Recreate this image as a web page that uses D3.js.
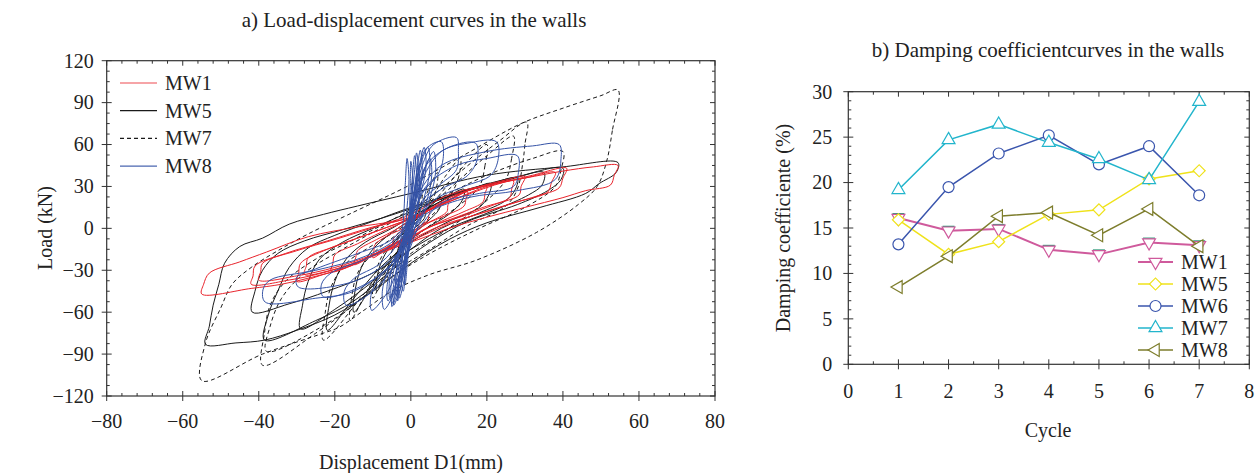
<!DOCTYPE html>
<html><head><meta charset="utf-8">
<script src="https://cdn.jsdelivr.net/npm/d3@7"></script>
<style>
body{margin:0;background:#fff}
text{font-family:"Liberation Serif","Times New Roman",serif;fill:#222}
</style>
</head><body>
<svg id="c" width="1257" height="473"></svg>
<script>
// ---------- Chart a) data : hysteresis loops [displacement mm, load kN] ----------
const loadSeries = ["MW1","MW5","MW7","MW8"];
const xTicksA = [-80,-60,-40,-20,0,20,40,60,80];
const yTicksA = [-120,-90,-60,-30,0,30,60,90,120];

const mw1Loops = [
 [[54.5,45],[53.5,38],[52.5,31],[46,27],[40,22],[30,15],[20,8],[10,0],[0,-10],[-9,-18],[-17,-28],[-26,-35],[-34,-40],[-42,-43],[-55,-47],[-54.5,-40],[-53,-32],[-45,-24],[-38,-17],[-27,-6],[-14,1],[-5,5],[0,10],[10,24],[20,31],[30,36],[40,41],[48,44]],
 [[41,43],[40,36],[39,29],[33,23],[22,14],[10,3],[0,-9],[-10,-20],[-22,-31],[-32,-37],[-42,-40],[-41.5,-34],[-41,-27],[-33,-18],[-22,-9],[-10,1],[0,8],[10,19],[22,31],[32,38]],
 [[38,40],[37,33],[36,26],[28,19],[20,12],[8,2],[0,-8],[-10,-19],[-20,-28],[-30,-34],[-40,-37],[-39.5,-31],[-39,-25],[-30,-16],[-20,-8],[-8,2],[0,8],[10,19],[20,30],[30,36]],
 [[30,37],[29,30],[28.5,24],[22,17],[14,9],[5,1],[0,-7],[-8,-17],[-16,-27],[-23,-33],[-30,-38],[-29.5,-32],[-29,-25],[-22,-15],[-14,-7],[-5,2],[0,7],[8,17],[16,28],[24,34]],
 [[27,34],[26.5,28],[26,22],[19,15],[12,8],[4,0],[0,-6],[-7,-15],[-14,-24],[-21,-30],[-28,-33],[-27.5,-27],[-27,-21],[-20,-13],[-12,-5],[-4,3],[0,7],[7,16],[14,26],[21,31]],
 [[20,30],[19.5,25],[19,19],[14,12],[8,5],[0,-6],[-5,-12],[-10,-19],[-15,-26],[-21,-31],[-20.5,-25],[-20,-19],[-14,-11],[-8,-3],[0,7],[5,14],[10,22],[15,27]],
 [[15,26],[14.5,21],[14,16],[9,9],[4,3],[0,-5],[-4,-10],[-8,-16],[-15,-26],[-14.5,-21],[-14,-16],[-9,-8],[-4,-1],[0,6],[4,12],[8,18],[12,23]],
 [[10,20],[9.7,16],[9.5,12],[6,6],[2,1],[0,-5],[-3,-9],[-6,-14],[-10,-21],[-9.7,-16],[-9.5,-12],[-6,-5],[-2,0],[0,5],[3,10],[6,15]],
 [[5,13],[4.7,9],[4.5,6],[2,1],[0,-4],[-2,-8],[-5,-14],[-4.7,-10],[-4.5,-7],[-2,-1],[0,4],[2,8]]
];

const mw5Loops = [
 [[54.5,47],[54,40],[49.5,32],[46,25],[34,15],[20,4],[10,-8],[0,-25],[-10,-45],[-20,-62],[-30,-73],[-38.5,-80],[-46,-82],[-54,-83],[-53,-70],[-52,-55],[-50.5,-40],[-49,-25],[-45,-13],[-39,-7],[-32,3],[-23,10],[-14,16],[0,25],[20,38],[40,44]],
 [[40,43],[39.5,35],[36,27],[28,17],[15,5],[5,-10],[-5,-30],[-15,-52],[-25,-66],[-38.5,-80],[-37.5,-62],[-35,-45],[-32,-28],[-27,-14],[-20,-5],[-10,5],[0,15],[15,28],[28,37]],
 [[35,40],[34.5,31],[31,24],[22,13],[10,0],[0,-15],[-10,-32],[-22,-45],[-32,-54],[-41.7,-60],[-41,-45],[-39,-30],[-35,-18],[-28,-9],[-18,-1],[-8,7],[0,14],[15,27],[26,35]],
 [[28,36],[27.5,28],[25,20],[18,11],[8,0],[0,-15],[-10,-38],[-20,-58],[-29,-72],[-28.5,-55],[-27,-38],[-24,-22],[-18,-10],[-10,0],[0,12],[12,25],[21,32]],
 [[21,32],[20.5,24],[18,15],[10,5],[0,-10],[-8,-28],[-15,-50],[-22,-73],[-21.5,-55],[-20,-38],[-17,-22],[-12,-10],[-5,0],[0,8],[10,22],[16,28]],
 [[14,28],[13.5,20],[10,10],[4,0],[0,-8],[-6,-25],[-10,-40],[-15,-60],[-14.5,-42],[-13,-28],[-10,-15],[-5,-3],[0,6],[7,18]],
 [[8,22],[7.5,14],[4,4],[0,-6],[-4,-20],[-9,-45],[-8.5,-30],[-6,-15],[-2,-3],[0,3],[4,13]],
 [[4,14],[3.5,7],[1,0],[0,-4],[-2,-14],[-4,-28],[-3.5,-16],[-2,-6],[0,2],[2,8]]
];

const mw7Loops = [
 [[54.5,99],[53,70],[51.5,48],[49,30],[44,17],[33,-3],[17,-23],[5,-33],[-5,-45],[-12,-58],[-19,-71],[-23,-75],[-39,-90],[-55,-109],[-54,-82],[-50,-57],[-47,-40],[-42,-28],[-35,-16],[-27,-4],[-14,13],[-1,30],[15,54],[29,75],[40,86],[50,95]],
 [[30.5,76],[30,60],[29.5,48],[28,28],[25,16],[15,2],[5,-15],[-5,-32],[-15,-55],[-25,-75],[-39,-98],[-38.5,-75],[-37,-55],[-33,-38],[-25,-22],[-15,-8],[-5,6],[5,22],[15,45],[23,62]],
 [[40,55],[39.5,42],[38,30],[30,15],[18,0],[5,-18],[-8,-40],[-22,-68],[-38,-88],[-37,-70],[-34,-50],[-28,-32],[-18,-15],[-8,0],[5,18],[20,38],[32,50]],
 [[27,66],[26.5,50],[25,35],[20,20],[10,0],[0,-18],[-10,-40],[-23,-80],[-22.5,-60],[-21,-42],[-17,-25],[-10,-12],[0,5],[10,28],[20,52]],
 [[20,60],[19.5,45],[18,30],[12,15],[4,0],[-4,-18],[-10,-38],[-16,-66],[-15.5,-48],[-14,-32],[-10,-18],[-4,-5],[3,10],[10,32],[15,48]],
 [[13,50],[12.5,36],[10,22],[5,8],[0,-5],[-5,-22],[-10,-50],[-9.5,-35],[-8,-22],[-5,-10],[0,3],[5,20],[9,37]],
 [[7,40],[6.5,26],[4,12],[0,0],[-3,-14],[-6,-36],[-5.5,-22],[-4,-10],[0,2],[3,18]],
 [[3,25],[2.5,14],[1,4],[0,-3],[-1.5,-10],[-3,-22],[-2.5,-12],[-1,-3],[0,4],[1.5,13]]
];

const mw8Loops = [
 [[39,60],[39.5,50],[38,35],[28,27],[15,22],[5,12],[0,0],[-5,-25],[-15,-45],[-25,-50],[-38.3,-52.8],[-38.9,-44],[-37,-37],[-25,-30],[-12,-20],[-3,-5],[2,25],[8,45],[20,55],[32,59]],
 [[28,52],[28.3,40],[27,30],[18,25],[8,18],[2,0],[-5,-22],[-15,-38],[-29.6,-42],[-30,-35],[-25,-29],[-14,-18],[-5,-8],[0,8],[4,30],[12,45],[20,50]],
 [[22.5,62],[23,50],[21,38],[14,30],[6,20],[1,0],[-5,-25],[-12,-40],[-23,-49],[-23.5,-40],[-21,-32],[-12,-22],[-4,-10],[0,10],[3,35],[8,55],[15,61]],
 [[17,61],[17.5,50],[15,38],[8,28],[2,15],[0,0],[-4,-25],[-10,-45],[-17,-55],[-17.5,-45],[-15,-36],[-8,-25],[-2,-5],[1,20],[4,45],[10,58]],
 [[12,65],[12.5,55],[12,42],[8,32],[3,20],[0,0],[-3,-25],[-6,-45],[-10.3,-58.7],[-10.5,-48],[-9,-38],[-5,-25],[-1,-5],[1,20],[3,45],[6,60]],
 [[8,62],[8.5,50],[7,38],[3,25],[0.5,0],[-2,-30],[-7,-58],[-7.5,-45],[-6,-30],[-2,-10],[0,15],[2,40],[4,57]],
 [[4.5,58],[5,42],[3.5,22],[1,0],[-1.5,-25],[-4,-50],[-5,-56],[-4.5,-40],[-3,-20],[-1,0],[1,25],[2.5,45]],
 [[2.5,56],[3,40],[2,20],[0.5,0],[-1,-20],[-3,-45],[-4.5,-55],[-4,-40],[-2.5,-20],[-1,0],[0.5,20],[1.5,40]],
 [[1,52],[1.5,38],[1,18],[0,0],[-1,-22],[-2,-40],[-3,-50],[-3.2,-38],[-2,-18],[-0.5,0],[0,22],[0.5,40]],
 [[3.5,58],[4,44],[2.5,24],[0.5,2],[-1.5,-22],[-3.5,-42],[-5,-54],[-5.2,-40],[-3.5,-20],[-1.2,0],[0.8,22],[2,42]],
 [[0,48],[0.5,35],[0,15],[-0.5,-5],[-1.2,-25],[-2,-45],[-2.5,-38],[-1.5,-18],[-0.5,5],[-0.2,28]],
 [[5,50],[5.5,38],[4,18],[1,0],[-2,-25],[-4.5,-45],[-5.5,-50],[-5.5,-35],[-3,-15],[-0.5,5],[2,28],[3.5,42]],
 [[2,45],[2.3,30],[1.5,12],[0,-5],[-0.8,-22],[-1.5,-40],[-1.8,-28],[-1,-10],[0,8],[1,28]],
 [[-1,50],[-0.5,35],[-1,15],[-1.5,-5],[-2.5,-28],[-3.8,-48],[-4,-36],[-3,-15],[-2,5],[-1.5,30]],
 [[6,55],[6.5,40],[5,22],[2,2],[-1,-20],[-4,-40],[-6,-52],[-6.2,-40],[-4,-22],[-1,-2],[2,25],[4,45]],
 [[1.5,54],[2,40],[1.2,20],[0,0],[-1.5,-25],[-2.8,-44],[-3.5,-52],[-3.4,-40],[-2.2,-20],[-0.8,2],[0.4,25],[1,42]]
];

// ---------- Chart b) data ----------
const cycles = [1,2,3,4,5,6,7];
const xTicksB = [0,1,2,3,4,5,6,7,8];
const yTicksB = [0,5,10,15,20,25,30];
const dampingNames = ["MW1","MW5","MW6","MW7","MW8"];
const mw1Damping = [16.1,14.7,14.9,12.6,12.1,13.4,13.1];
const mw5Damping = [15.9,12.1,13.5,16.5,17.0,20.4,21.3];
const mw6Damping = [13.2,19.5,23.2,25.2,22.0,24.0,18.6];
const mw7Damping = [19.2,24.7,26.4,24.4,22.6,20.3,28.9];
const mw8Damping = [8.5,11.9,16.3,16.7,14.2,17.1,13.0];

// ---------- drawing ----------
const svg = d3.select("#c");
const fmt = v => (v < 0 ? "\u2212" + Math.abs(v) : String(v));
const axisColor = "#333";

function frame(g, x, y, xMajor, yMajor, xMinor, yMinor, fs, xLabOff, yLabOff) {
  const [x0, x1] = x.range(), [y0, y1] = y.range();
  g.append("rect").attr("x", x0).attr("y", y1).attr("width", x1 - x0).attr("height", y0 - y1)
    .attr("fill", "none").attr("stroke", axisColor).attr("stroke-width", 1.2);
  const tick = (sel, vals, len, orient) => {
    sel.selectAll(null).data(vals).join("line")
      .attr("stroke", axisColor).attr("stroke-width", 1)
      .each(function (v) {
        const s = d3.select(this);
        if (orient === "bottom") s.attr("x1", x(v)).attr("x2", x(v)).attr("y1", y0 + len[0]).attr("y2", y0 - len[1]);
        if (orient === "top") s.attr("x1", x(v)).attr("x2", x(v)).attr("y1", y1).attr("y2", y1 + len[1]);
        if (orient === "left") s.attr("y1", y(v)).attr("y2", y(v)).attr("x1", x0 - len[0]).attr("x2", x0 + len[1]);
        if (orient === "right") s.attr("y1", y(v)).attr("y2", y(v)).attr("x1", x1).attr("x2", x1 - len[1]);
      });
  };
  tick(g, xMajor, [5, 5], "bottom");
  tick(g, xMinor, [0, 3], "bottom");
  tick(g, xMajor, [0, 5], "top");
  tick(g, xMinor, [0, 3], "top");
  tick(g, yMajor, [5, 5], "left");
  tick(g, yMinor, [0, 3], "left");
  tick(g, yMajor, [0, 5], "right");
  tick(g, yMinor, [0, 3], "right");
  g.selectAll(null).data(xMajor).join("text")
    .attr("x", v => x(v)).attr("y", y0 + xLabOff).attr("text-anchor", "middle")
    .attr("font-size", fs).text(fmt);
  g.selectAll(null).data(yMajor).join("text")
    .attr("x", x0 - yLabOff).attr("y", v => y(v)).attr("dy", "0.34em").attr("text-anchor", "end")
    .attr("font-size", fs).text(fmt);
}

// ----- chart a -----
const gA = svg.append("g");
const xA = d3.scaleLinear().domain([-80, 80]).range([106.7, 715]);
const yA = d3.scaleLinear().domain([-120, 120]).range([396, 60.7]);
svg.append("defs").append("clipPath").attr("id", "clipA").append("rect")
  .attr("x", 106.7).attr("y", 60.7).attr("width", 715 - 106.7).attr("height", 396 - 60.7);

const loopLine = d3.line().x(d => xA(d[0])).y(d => yA(d[1])).curve(d3.curveCatmullRomClosed.alpha(0.5));
const specs = [
  {name: "MW7", loops: mw7Loops, color: "#1a1a1a", dash: "4,3", w: 1},
  {name: "MW5", loops: mw5Loops, color: "#1a1a1a", dash: null, w: 1},
  {name: "MW1", loops: mw1Loops, color: "#e8232b", dash: null, w: 1},
  {name: "MW8", loops: mw8Loops, color: "#3553a6", dash: null, w: 1}
];
const plotA = gA.append("g").attr("clip-path", "url(#clipA)");
specs.forEach(s => {
  plotA.append("g").selectAll("path").data(s.loops).join("path")
    .attr("d", loopLine).attr("fill", "none").attr("stroke", s.color)
    .attr("stroke-width", s.w).attr("stroke-dasharray", s.dash);
});
frame(gA, xA, yA, xTicksA, yTicksA, d3.range(-80, 80.1, 4).filter(v => v % 20 !== 0),
  d3.range(-120, 120.1, 7.5).filter(v => v % 30 !== 0), 20, 32, 13);

// legend a
const legA = [
  {name: "MW1", color: "#ee4a50", dash: null},
  {name: "MW5", color: "#1a1a1a", dash: null},
  {name: "MW7", color: "#1a1a1a", dash: "4,3"},
  {name: "MW8", color: "#4a66b0", dash: null}
];
legA.forEach((d, i) => {
  const yy = 83 + i * 27.7;
  gA.append("line").attr("x1", 120).attr("x2", 157).attr("y1", yy).attr("y2", yy)
    .attr("stroke", d.color).attr("stroke-width", 1.2).attr("stroke-dasharray", d.dash);
  gA.append("text").attr("x", 165).attr("y", yy).attr("dy", "0.35em").attr("font-size", 20).text(d.name);
});
gA.append("text").attr("x", 414).attr("y", 27).attr("text-anchor", "middle").attr("font-size", 21)
  .text("a) Load-displacement curves in the walls");
gA.append("text").attr("x", 411).attr("y", 469).attr("text-anchor", "middle").attr("font-size", 20)
  .text("Displacement D1(mm)");
gA.append("text").attr("transform", "translate(52,228) rotate(-90)").attr("text-anchor", "middle")
  .attr("font-size", 20).text("Load (kN)");

// ----- chart b -----
const gB = svg.append("g");
const xB = d3.scaleLinear().domain([0, 8]).range([848.3, 1249.3]);
const yB = d3.scaleLinear().domain([0, 30]).range([364.3, 91.7]);
frame(gB, xB, yB, xTicksB, yTicksB, d3.range(0.5, 8, 1), d3.range(0, 30.1, 1).filter(v => v % 5 !== 0), 20, 34, 16);

const dampSeries = [
  {name: "MW1", vals: mw1Damping, color: "#cf5a9c", shape: "down", lw: 2},
  {name: "MW5", vals: mw5Damping, color: "#efe21a", shape: "diamond", lw: 1.5},
  {name: "MW6", vals: mw6Damping, color: "#3a55ad", shape: "circle", lw: 1.5},
  {name: "MW7", vals: mw7Damping, color: "#22b5cc", shape: "up", lw: 1.5},
  {name: "MW8", vals: mw8Damping, color: "#7d7d2c", shape: "left", lw: 1.5}
];
function markerPath(shape) {
  if (shape === "circle") return d3.symbol(d3.symbolCircle, 95)();
  if (shape === "diamond") return d3.symbol(d3.symbolSquare, 72)();
  return d3.symbol(d3.symbolTriangle, 72)();
}
function markerRot(shape) {
  return {down: 180, diamond: 45, left: -90, up: 0, circle: 0}[shape];
}
const lineB = d3.line().x((d, i) => xB(cycles[i])).y(d => yB(d));
dampSeries.forEach(s => {
  const g = gB.append("g");
  g.append("path").attr("d", lineB(s.vals)).attr("fill", "none").attr("stroke", s.color).attr("stroke-width", s.lw);
  if (s.name === "MW1") {
    g.selectAll(null).data(s.vals).join("line")
      .attr("x1", (d, i) => xB(cycles[i]) - 6).attr("x2", (d, i) => xB(cycles[i]) + 6)
      .attr("y1", d => yB(d) - 4).attr("y2", d => yB(d) - 4)
      .attr("stroke", "#2e9a78").attr("stroke-width", 2);
  }
  g.selectAll("path.m").data(s.vals).join("path").attr("class", "m")
    .attr("d", markerPath(s.shape))
    .attr("transform", (d, i) => `translate(${xB(cycles[i])},${yB(d)}) rotate(${markerRot(s.shape)})`)
    .attr("fill", "#fff").attr("stroke", s.color).attr("stroke-width", 1.2);
});
// legend b
dampSeries.forEach((s, i) => {
  const yy = 262 + i * 22;
  gB.append("line").attr("x1", 1138).attr("x2", 1173).attr("y1", yy).attr("y2", yy)
    .attr("stroke", s.color).attr("stroke-width", s.lw);
  gB.append("path").attr("d", markerPath(s.shape))
    .attr("transform", `translate(1155.5,${yy}) rotate(${markerRot(s.shape)})`)
    .attr("fill", "#fff").attr("stroke", s.color).attr("stroke-width", 1.2);
  gB.append("text").attr("x", 1181).attr("y", yy).attr("dy", "0.35em").attr("font-size", 20).text(s.name);
});
gB.append("text").attr("x", 1048).attr("y", 57).attr("text-anchor", "middle").attr("font-size", 21)
  .text("b) Damping coefficientcurves in the walls");
gB.append("text").attr("x", 1048).attr("y", 437).attr("text-anchor", "middle").attr("font-size", 20)
  .text("Cycle");
gB.append("text").attr("transform", "translate(790,228) rotate(-90)").attr("text-anchor", "middle")
  .attr("font-size", 20).text("Damping coefficiente (%)");
</script>
</body></html>
